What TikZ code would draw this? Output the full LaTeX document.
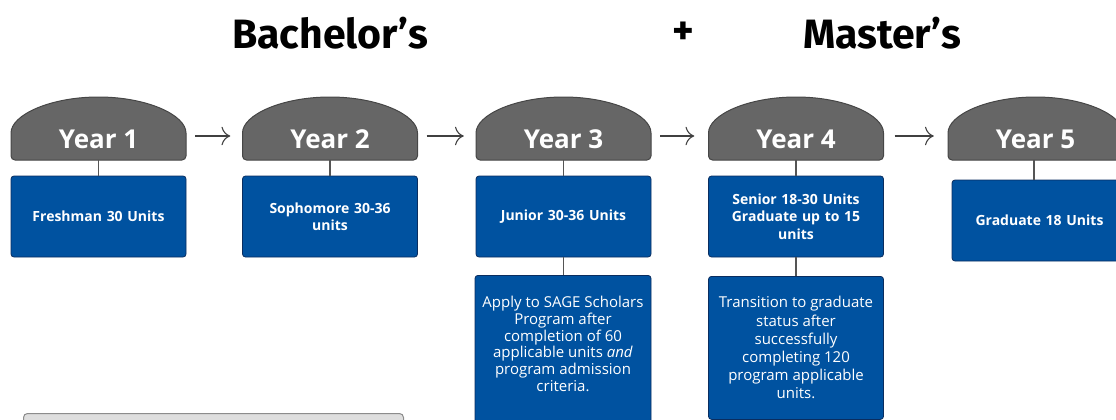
\documentclass[tikz,border=0pt]{standalone}
\usepackage{fontspec}
\setmainfont{Open Sans}
\newfontfamily\titlefont{Fira Sans}
\usetikzlibrary{arrows.meta,calc}
\definecolor{sageblue}{RGB}{0,82,160}
\definecolor{sageblueborder}{RGB}{10,45,95}
\definecolor{domegray}{RGB}{102,102,102}
\definecolor{domeborder}{RGB}{70,70,70}
\definecolor{linegray}{RGB}{85,85,85}
\definecolor{panelgray}{RGB}{222,222,222}
\definecolor{panelborder}{RGB}{140,140,140}
\tikzset{
  domeshape/.style={fill=domegray,draw=domeborder,line width=1pt,rounded corners=4pt},
  yeartext/.style={minimum width=175pt,minimum height=42pt,inner sep=0pt,text=white,
    font=\fontsize{26}{30}\selectfont\bfseries},
  bluebox/.style={fill=sageblue,draw=sageblueborder,line width=0.8pt,rounded corners=3pt,
    minimum width=175pt,minimum height=81pt,inner sep=0pt,text=white,align=center,
    text width=165pt,font=\fontsize{14}{17.5}\selectfont\bfseries},
  infobox/.style={fill=sageblue,draw=sageblueborder,line width=0.8pt,rounded corners=3pt,
    inner sep=0pt,text=white,align=center,
    font=\fontsize{15}{18.2}\selectfont},
  stem/.style={draw=linegray,line width=1.2pt},
  flow/.style={draw=black!75,line width=1.1pt,-{To[scale=2.2]}},
  titletext/.style={font=\titlefont\fontsize{41}{44}\selectfont\bfseries,text=black}
}
\begin{document}
\begin{tikzpicture}[x=1pt,y=-1pt]
\useasboundingbox (0,0) rectangle (1116,420);
\clip (0,0) rectangle (1116,420);
% titles
\node[titletext] (tb) at (330,33) {Bachelor’s};
\node[titletext] (tp) at (683,33) {+};
\node[titletext] (tm) at (882,33) {Master’s};
% domes
\foreach \cx in {98.5,330,563.5,796,1035.5}{
  \path[domeshape] ({\cx-87.5},160) -- ({\cx-87.5},137)
    arc[start angle=180,end angle=360,x radius=87.5,y radius=40] -- ({\cx+87.5},160) -- cycle;
}
\node[yeartext] (y1) at (98.5,139) {Year 1};
\node[yeartext] (y2) at (330,139) {Year 2};
\node[yeartext] (y3) at (563.5,139) {Year 3};
\node[yeartext] (y4) at (796,139) {Year 4};
\node[yeartext] (y5) at (1035.5,139) {Year 5};
% blue boxes
\node[bluebox] (b1) at (98.5,216.5) {Freshman 30 Units};
\node[bluebox] (b2) at (330,216.5) {Sophomore 30-36\\units};
\node[bluebox] (b3) at (563.5,216.5) {Junior 30-36 Units};
\node[bluebox] (b4) at (796,216.5) {Senior 18-30 Units\\Graduate up to 15\\units};
\node[bluebox] (b5) at (1039.5,220.5) {Graduate 18 Units};
% lower boxes
\node[infobox,minimum width=176pt,minimum height=160pt,anchor=north] (c3) at (563,275) {};
\node[align=center,text=white,font=\fontsize{15}{16.8}\selectfont,inner sep=0pt] (c3t) at (563,344)
  {Apply to SAGE Scholars\\Program after\\completion of 60\\applicable units \textit{and}\\program admission\\criteria.};
\node[infobox,minimum width=175pt,minimum height=143pt,anchor=north] (c4) at (796,276)
  {Transition to graduate\\status after\\successfully\\completing 120\\program applicable\\units.};
% bottom panel
\node[fill=panelgray,draw=panelborder,line width=1pt,rounded corners=4pt,
  minimum width=380pt,minimum height=30pt,anchor=north west,inner sep=0pt] (panel) at (23,413) {};
% stems
\draw[stem] (y1.south) -- (b1.north);
\draw[stem] (y2.south) -- (b2.north);
\draw[stem] (y3.south) -- (b3.north);
\draw[stem] (y4.south) -- (b4.north);
\draw[stem] ([xshift=-1.5pt]y5.south) -- ([xshift=-1.5pt]y5.south |- b5.north);
\draw[stem] (b3.south) -- (b3.south |- c3.north);
\draw[stem] (b4.south) -- (c4.north);
% flow arrows
\draw[flow] ([xshift=9pt,yshift=3pt]y1.east) -- ([xshift=-12pt,yshift=3pt]y2.west);
\draw[flow] ([xshift=9pt,yshift=3pt]y2.east) -- ([xshift=-12pt,yshift=3pt]y3.west);
\draw[flow] ([xshift=9pt,yshift=3pt]y3.east) -- ([xshift=-14pt,yshift=3pt]y4.west);
\draw[flow] ([xshift=11pt,yshift=3pt]y4.east) -- ([xshift=-14pt,yshift=3pt]y5.west);
\end{tikzpicture}
\end{document}
